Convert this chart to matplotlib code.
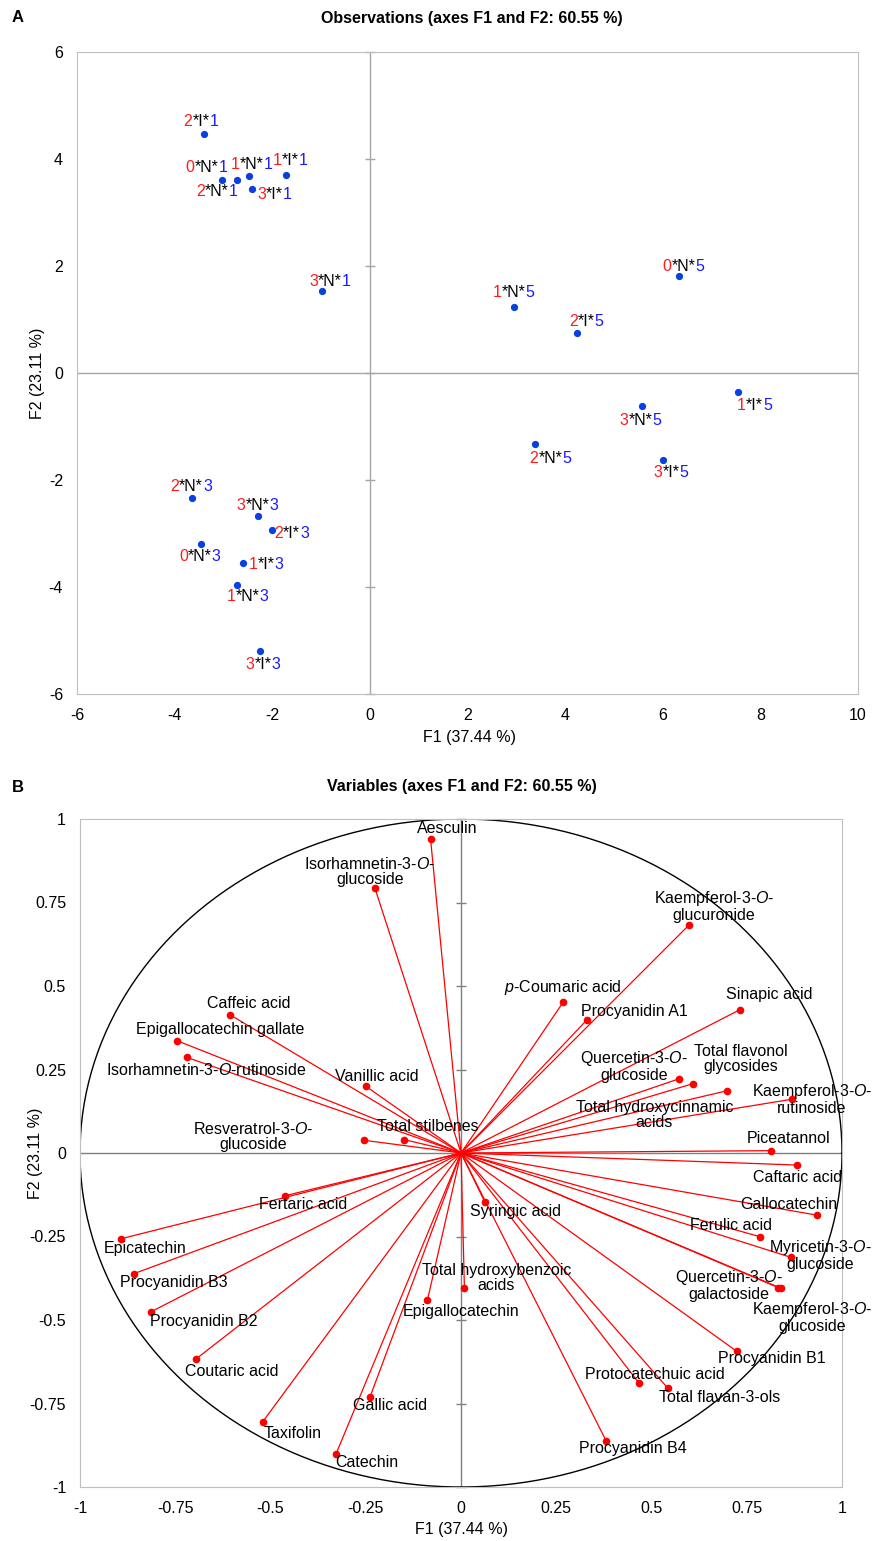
import numpy as np
import matplotlib
matplotlib.use("Agg")
import matplotlib.pyplot as plt
from matplotlib.offsetbox import TextArea, HPacker, AnnotationBbox

plt.rcParams['font.family'] = ['Liberation Sans', 'DejaVu Sans']
plt.rcParams['font.size'] = 11
plt.rcParams['axes.unicode_minus'] = False
plt.rcParams['mathtext.fontset'] = 'custom'
plt.rcParams['mathtext.rm'] = 'Liberation Sans'
plt.rcParams['mathtext.it'] = 'Liberation Sans:italic'

# ---- dane: obserwacje (panel A) ----
obs_nazwy = ["2*I*1", "0*N*1", "2*N*1", "1*N*1", "3*I*1", "1*I*1", "3*N*1",
             "2*N*3", "3*N*3", "2*I*3", "0*N*3", "1*I*3", "1*N*3", "3*I*3",
             "0*N*5", "1*N*5", "2*I*5", "1*I*5", "3*N*5", "2*N*5", "3*I*5"]
obs_f1 = [-3.40, -3.02, -2.73, -2.48, -2.42, -1.71, -0.98,
          -3.64, -2.30, -2.01, -3.46, -2.59, -2.73, -2.25,
          6.34, 2.96, 4.25, 7.55, 5.57, 3.39, 6.01]
obs_f2 = [4.46, 3.61, 3.60, 3.68, 3.43, 3.71, 1.53,
          -2.34, -2.67, -2.93, -3.19, -3.56, -3.96, -5.20,
          1.81, 1.23, 0.75, -0.36, -0.62, -1.32, -1.62]
a_xticks = [-6, -4, -2, 0, 2, 4, 6, 8, 10]
a_yticks = [-6, -4, -2, 0, 2, 4, 6]

# ---- dane: zmienne (panel B) ----
zm_nazwy = ["Aesculin", "Isorhamnetin-3-$\\mathit{O}$-\nglucoside", "Caffeic acid",
            "Epigallocatechin gallate", "Isorhamnetin-3-$\\mathit{O}$-rutinoside",
            "Vanillic acid", "Resveratrol-3-$\\mathit{O}$-\nglucoside", "Total stilbenes",
            "Kaempferol-3-$\\mathit{O}$-\nglucuronide", "$\\mathit{p}$-Coumaric acid",
            "Procyanidin A1", "Sinapic acid", "Quercetin-3-$\\mathit{O}$-\nglucoside",
            "Total flavonol\nglycosides", "Total hydroxycinnamic\nacids",
            "Kaempferol-3-$\\mathit{O}$-\nrutinoside", "Piceatannol", "Caftaric acid",
            "Gallocatechin", "Ferulic acid", "Myricetin-3-$\\mathit{O}$-\nglucoside",
            "Quercetin-3-$\\mathit{O}$-\ngalactoside", "Kaempferol-3-$\\mathit{O}$-\nglucoside",
            "Procyanidin B1", "Protocatechuic acid", "Total flavan-3-ols",
            "Procyanidin B4", "Syringic acid", "Total hydroxybenzoic\nacids",
            "Epigallocatechin", "Fertaric acid", "Epicatechin", "Procyanidin B3",
            "Procyanidin B2", "Coutaric acid", "Taxifolin", "Catechin", "Gallic acid"]
zm_f1 = [-0.080, -0.226, -0.605, -0.745, -0.719, -0.250, -0.254, -0.149,
         0.598, 0.269, 0.330, 0.732, 0.572, 0.610, 0.697, 0.869, 0.813, 0.881,
         0.934, 0.786, 0.865, 0.833, 0.840, 0.724, 0.468, 0.542, 0.381, 0.063,
         0.009, -0.088, -0.462, -0.893, -0.858, -0.813, -0.696, -0.520, -0.328, -0.239]
zm_f2 = [0.941, 0.793, 0.413, 0.336, 0.286, 0.200, 0.038, 0.040,
         0.682, 0.453, 0.398, 0.429, 0.222, 0.208, 0.186, 0.161, 0.007, -0.036,
         -0.186, -0.251, -0.312, -0.403, -0.405, -0.594, -0.690, -0.703, -0.862, -0.148,
         -0.405, -0.440, -0.128, -0.257, -0.361, -0.475, -0.617, -0.804, -0.901, -0.731]
b_ticks = [-1, -0.75, -0.5, -0.25, 0, 0.25, 0.5, 0.75, 1]
b_tick_labels = ["-1", "-0.75", "-0.5", "-0.25", "0", "0.25", "0.5", "0.75", "1"]

# przesuniecia etykiet (piksele, srodek etykiety wzgledem punktu)
obs_przes = [(-3, -13), (-16, -12), (-20, 11), (3, -12), (23, 5), (4, -14), (8, -10),
             (-1, -12), (0, -10), (20, 4), (-1, 13), (23, 1), (11, 12), (3, 13),
             (4, -10), (-1, -15), (9, -11), (16, 13), (-1, 14), (15, 15), (8, 13)]
zm_przes = [(17, -10), (-5, -17), (18, -12), (43, -11), (19, 13), (11, -10), (-111, -4),
            (24, -13), (25, -19), (-1, -14), (48, -9), (29, -15), (-45, -13), (47, -25),
            (-72, 24), (20, 0), (18, -12), (1, 12), (-28, -11), (-29, -11), (30, -2),
            (-49, -3), (31, 29), (35, 7), (16, -9), (52, 10), (27, 8), (30, 9), (32, -10),
            (34, 12), (18, 9), (24, 10), (40, 9), (53, 10), (36, 12), (30, 12), (31, 9), (20, 8)]

W, H = 872, 1541
fig = plt.figure(figsize=(W / 100, H / 100), dpi=100)

rama = '#BFBFBF'
fs = 11.5

# ================= panel A =================
axA = fig.add_axes([77 / W, 1 - 694 / H, (858 - 77) / W, (694 - 52) / H])
axA.set_xlim(-6, 10)
axA.set_ylim(-6, 6)
axA.axhline(0, color='#A6A6A6', lw=1, zorder=1)
axA.axvline(0, color='#A6A6A6', lw=1, zorder=1)
axA.plot([0] * len(a_yticks), a_yticks, ls='none', marker='_', ms=7, mew=1, color='#A6A6A6', clip_on=False)
axA.plot(obs_f1, obs_f2, 'o', color='#0A3FE0', ms=4.2, zorder=3)

# etykiety w trzech kolorach: cyfra czerwona, srodek czarny, cyfra niebieska
for x, y, txt, (dx, dy) in zip(obs_f1, obs_f2, obs_nazwy, obs_przes):
    czesci = [TextArea(txt[0], textprops=dict(color='#FF1A1A', size=fs)),
              TextArea(txt[1:-1], textprops=dict(color='black', size=fs)),
              TextArea(txt[-1], textprops=dict(color='#1A1AFF', size=fs))]
    box = HPacker(children=czesci, align='baseline', pad=0, sep=0)
    ab = AnnotationBbox(box, (x, y), xybox=(dx * 0.72, -dy * 0.72), xycoords='data',
                        boxcoords='offset points', frameon=False, pad=0,
                        box_alignment=(0.5, 0.5))
    axA.add_artist(ab)

axA.set_xticks(a_xticks)
axA.set_yticks(a_yticks)
axA.tick_params(length=0, pad=10, labelsize=fs)
for s in axA.spines.values():
    s.set_color(rama)
axA.set_xlabel("F1 (37.44 %)", fontsize=fs, va='center')
axA.xaxis.set_label_coords(0.503, -0.067)
axA.set_ylabel("F2 (23.11 %)", fontsize=fs, va='center')
axA.yaxis.set_label_coords(-0.050, 0.5)

fig.text(18 / W, 1 - 18 / H, "A", fontsize=12, fontweight='bold', ha='center', va='center')
fig.text(472 / W, 1 - 18 / H, "Observations (axes F1 and F2: 60.55 %)", fontsize=11.5,
         fontweight='bold', ha='center', va='center')

# ================= panel B =================
axB = fig.add_axes([80 / W, 1 - 1487 / H, (842 - 80) / W, (1487 - 819) / H])
axB.set_xlim(-1, 1)
axB.set_ylim(-1, 1)
axB.axhline(0, color='#808080', lw=1, zorder=1)
axB.axvline(0, color='#808080', lw=1, zorder=1)
axB.plot([0] * len(b_ticks), b_ticks, ls='none', marker='_', ms=7, mew=1, color='#808080', clip_on=False)

t = np.linspace(0, 2 * np.pi, 400)
axB.plot(np.cos(t), np.sin(t), color='black', lw=1, zorder=2)

for x, y in zip(zm_f1, zm_f2):
    axB.plot([0, x], [0, y], color='#FF0000', lw=0.9, zorder=3)
axB.plot(zm_f1, zm_f2, 'o', color='#FF0000', ms=4.5, zorder=4)

for x, y, txt, (dx, dy) in zip(zm_f1, zm_f2, zm_nazwy, zm_przes):
    axB.annotate(txt, (x, y), xytext=(dx * 0.72, -dy * 0.72), textcoords='offset points',
                 ha='center', va='center', fontsize=fs, linespacing=1.0, zorder=5)

axB.set_xticks(b_ticks)
axB.set_xticklabels(b_tick_labels)
axB.set_yticks(b_ticks)
axB.set_yticklabels(b_tick_labels)
axB.tick_params(length=0, pad=10, labelsize=fs)
for s in axB.spines.values():
    s.set_color(rama)
axB.set_xlabel("F1 (37.44 %)", fontsize=fs, va='center')
axB.xaxis.set_label_coords(0.501, -0.064)
axB.set_ylabel("F2 (23.11 %)", fontsize=fs, va='center')
axB.yaxis.set_label_coords(-0.058, 0.5)

fig.text(18 / W, 1 - 787 / H, "B", fontsize=12, fontweight='bold', ha='center', va='center')
fig.text(462 / W, 1 - 787 / H, "Variables (axes F1 and F2: 60.55 %)", fontsize=11.5,
         fontweight='bold', ha='center', va='center')

fig.savefig("out.png", dpi=100)
